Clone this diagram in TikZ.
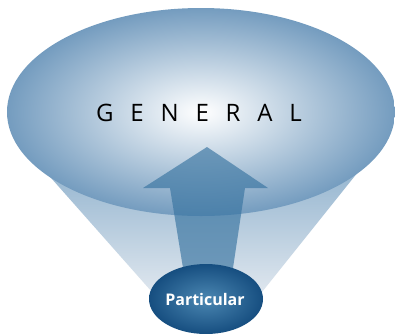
\documentclass[tikz,border=0pt]{standalone}
\usepackage{fontspec}
\setmainfont{Open Sans}
\begin{document}
\begin{tikzpicture}[x=1pt,y=-1pt,
  conefill/.style={top color=cone1, bottom color=cone2},
  bigell/.style={inner color=white, outer color=bigout},
  arrowfill/.style={fill=arrowc, fill opacity=0.65},
  smallell/.style={inner color=smallin, outer color=smallout},
  lbl/.style={inner sep=0pt}]
\definecolor{cone1}{RGB}{150,182,208}
\definecolor{cone2}{RGB}{222,230,238}
\definecolor{bigout}{RGB}{116,156,191}
\definecolor{arrowc}{RGB}{55,115,160}
\definecolor{smallin}{RGB}{75,135,178}
\definecolor{smallout}{RGB}{22,78,128}
\useasboundingbox (0,0) rectangle (395,333);
\fill[white] (0,0) rectangle (395,333);
% cone
\shade[conefill] (44,170) -- (152,292) -- (262,292) -- (358,172) -- cycle;
% big ellipse
\shade[bigell] (201,112) ellipse [x radius=194, y radius=104];
% arrow
\fill[arrowfill] (207,147) -- (268,188) -- (245,188) -- (233,268) -- (183,268) -- (170,188) -- (143,188) -- cycle;
% small ellipse
\shade[smallell] (206,299) ellipse [x radius=57, y radius=35];
\node[lbl] (general) at (199,113) {\addfontfeature{LetterSpace=70}\fontsize{24}{28}\selectfont GENERAL};
\node[lbl, text=white] (particular) at (205,299) {\fontsize{16}{19}\selectfont\bfseries Particular};
\end{tikzpicture}
\end{document}
